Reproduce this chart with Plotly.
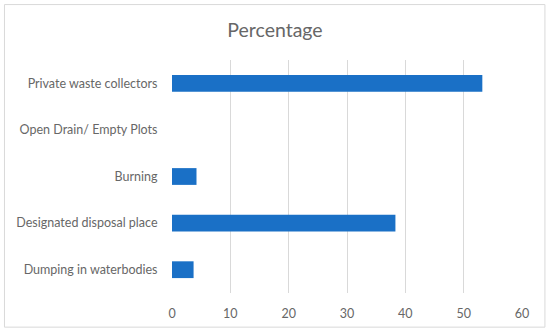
import plotly.graph_objects as go

categories = ["Private waste collectors", "Open Drain/ Empty Plots", "Burning",
              "Designated disposal place", "Dumping in waterbodies"]
values = [53.2, 0, 4.2, 38.3, 3.7]
x_ticks = [0, 10, 20, 30, 40, 50, 60]

W, H = 550, 335
ml, mr, mt, mb = 171.5, 27.5, 60, 41.7
pw, ph = W - ml - mr, H - mt - mb

fig = go.Figure(go.Bar(
    y=categories, x=values, orientation="h",
    marker=dict(color="#1a70c6", line=dict(width=0)),
))

font_family = "Lato, 'Open Sans', sans-serif"
text_color = "#676767"

def px_x(p):
    return (p - ml) / pw

def px_y(p):
    return (H - mb - p) / ph

fig.add_shape(type="rect", xref="paper", yref="paper",
              x0=px_x(3.5), x1=px_x(545.5), y0=px_y(327.5), y1=px_y(4.5),
              line=dict(color="#d9d9d9", width=1), fillcolor="rgba(0,0,0,0)", layer="below")

fig.update_layout(
    width=W, height=H,
    margin=dict(l=ml, r=mr, t=mt, b=mb, autoexpand=False),
    paper_bgcolor="white", plot_bgcolor="white",
    bargap=0.64,
    showlegend=False,
    title=dict(text="Percentage", x=0.5, xref="container", xanchor="center",
               y=1 - 30 / H, yref="container", yanchor="middle",
               font=dict(family=font_family, size=19.5, color=text_color)),
    font=dict(family=font_family, size=12.5, color=text_color),
    xaxis=dict(range=[0, 60], tickvals=x_ticks, showgrid=True, gridcolor="#d9d9d9",
               gridwidth=1, zeroline=False, showline=False, automargin=False,
               ticks="outside", ticklen=9, tickcolor="rgba(0,0,0,0)",
               tickfont=dict(size=12.5, color=text_color)),
    yaxis=dict(autorange="reversed", showgrid=False, zeroline=False, showline=False,
               automargin=False,
               ticks="outside", ticklen=11, tickcolor="rgba(0,0,0,0)",
               tickfont=dict(size=12.5, color=text_color)),
)

fig.write_html("out.html", config={"displayModeBar": False},
               post_script="document.body.style.margin='0';document.body.style.overflow='hidden';")
